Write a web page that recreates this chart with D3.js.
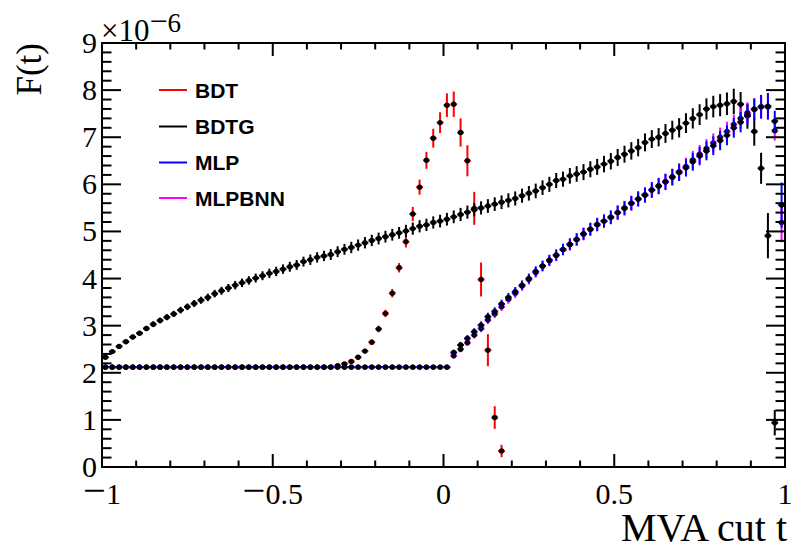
<!DOCTYPE html>
<html>
<head>
<meta charset="utf-8">
<script src="https://cdn.jsdelivr.net/npm/d3@7"></script>
<style>
  html, body { margin: 0; padding: 0; background: #fff; }
  svg { display: block; }
</style>
</head>
<body>
<svg id="chart" width="791" height="550"></svg>
<script>
// ---------------- DATA ----------------
const nBins = 100;
const xMin = -1, xMax = 1;
const xTickLabels = ["\u22121", "\u22120.5", "0", "0.5", "1"];
const xTickValues = [-1, -0.5, 0, 0.5, 1];
const yTickValues = [0, 1, 2, 3, 4, 5, 6, 7, 8, 9];
const seriesNames = ["BDT", "BDTG", "MLP", "MLPBNN"];
const seriesColors = ["#ff0000", "#000000", "#0000ff", "#ff00ff"];

// values in units of 1e-6, one per bin (bin width 0.02, centres -0.99 ... 0.99)
const bdtValues = [
  2.12,2.12,2.12,2.12,2.12,2.12,2.12,2.12,2.12,2.12,
  2.12,2.12,2.12,2.12,2.12,2.12,2.12,2.12,2.12,2.12,
  2.12,2.12,2.12,2.12,2.12,2.12,2.12,2.12,2.12,2.12,
  2.12,2.12,2.12,2.12,2.15,2.19,2.24,2.33,2.46,2.65,
  2.93,3.26,3.69,4.23,4.78,5.37,5.94,6.51,6.98,7.31,
  7.68,7.70,7.10,6.50,5.49,3.98,2.48,1.05,0.34,null,
  null,null,null,null,null,null,null,null,null,null,
  null,null,null,null,null,null,null,null,null,null,
  null,null,null,null,null,null,null,null,null,null,
  null,null,null,null,null,null,null,null,null,null
];
const bdtErrors = [
  0.02,0.02,0.02,0.02,0.02,0.02,0.02,0.02,0.02,0.02,
  0.02,0.02,0.02,0.02,0.02,0.02,0.02,0.02,0.02,0.02,
  0.02,0.02,0.02,0.02,0.02,0.02,0.02,0.02,0.02,0.02,
  0.02,0.02,0.02,0.02,0.03,0.035,0.04,0.045,0.05,0.06,
  0.07,0.08,0.09,0.10,0.12,0.15,0.16,0.18,0.20,0.22,
  0.25,0.27,0.30,0.33,0.35,0.36,0.34,0.24,0.13,null,
  null,null,null,null,null,null,null,null,null,null,
  null,null,null,null,null,null,null,null,null,null,
  null,null,null,null,null,null,null,null,null,null,
  null,null,null,null,null,null,null,null,null,null
];
const bdtgValues = [
  2.33,2.45,2.56,2.66,2.76,2.84,2.94,3.03,3.11,3.18,
  3.25,3.33,3.40,3.47,3.54,3.60,3.68,3.74,3.80,3.86,
  3.91,3.96,4.01,4.06,4.11,4.15,4.20,4.25,4.29,4.36,
  4.40,4.45,4.48,4.51,4.57,4.62,4.66,4.71,4.76,4.81,
  4.85,4.89,4.93,4.97,5.01,5.06,5.11,5.14,5.19,5.22,
  5.26,5.31,5.36,5.41,5.46,5.50,5.54,5.58,5.62,5.66,
  5.70,5.76,5.81,5.86,5.93,6.00,6.08,6.11,6.18,6.22,
  6.26,6.32,6.37,6.43,6.49,6.57,6.64,6.71,6.78,6.89,
  6.96,7.00,7.08,7.15,7.20,7.30,7.40,7.48,7.60,7.65,
  7.68,7.71,7.76,7.70,7.45,7.12,6.34,4.91,0.94,null
];
const bdtgErrors = [
  0.03,0.035,0.04,0.045,0.05,0.05,0.055,0.06,0.06,0.065,
  0.065,0.07,0.07,0.075,0.075,0.08,0.08,0.085,0.085,0.09,
  0.09,0.09,0.095,0.095,0.10,0.10,0.10,0.105,0.105,0.105,
  0.11,0.11,0.11,0.115,0.115,0.115,0.12,0.12,0.12,0.12,
  0.125,0.125,0.125,0.125,0.13,0.13,0.13,0.13,0.13,0.135,
  0.135,0.135,0.14,0.14,0.14,0.14,0.145,0.145,0.145,0.15,
  0.15,0.15,0.155,0.155,0.155,0.16,0.16,0.16,0.165,0.165,
  0.17,0.17,0.17,0.175,0.175,0.18,0.18,0.185,0.185,0.19,
  0.19,0.195,0.20,0.20,0.205,0.21,0.215,0.22,0.225,0.23,
  0.235,0.24,0.27,0.26,0.27,0.30,0.33,0.48,0.27,null
];
const mlpValues = [
  2.12,2.12,2.12,2.12,2.12,2.12,2.12,2.12,2.12,2.12,
  2.12,2.12,2.12,2.12,2.12,2.12,2.12,2.12,2.12,2.12,
  2.12,2.12,2.12,2.12,2.12,2.12,2.12,2.12,2.12,2.12,
  2.12,2.12,2.12,2.12,2.12,2.12,2.12,2.12,2.12,2.12,
  2.12,2.12,2.12,2.12,2.12,2.12,2.12,2.12,2.12,2.12,
  2.12,2.43,2.59,2.73,2.87,3.01,3.19,3.30,3.46,3.60,
  3.72,3.86,4.00,4.15,4.27,4.39,4.50,4.62,4.73,4.83,
  4.95,5.05,5.15,5.22,5.30,5.40,5.49,5.60,5.69,5.77,
  5.88,5.96,6.05,6.15,6.25,6.35,6.48,6.60,6.71,6.82,
  6.93,7.04,7.20,7.32,7.48,7.59,7.65,7.66,7.34,5.56
];
const mlpErrors = [
  0.02,0.02,0.02,0.02,0.02,0.02,0.02,0.02,0.02,0.02,
  0.02,0.02,0.02,0.02,0.02,0.02,0.02,0.02,0.02,0.02,
  0.02,0.02,0.02,0.02,0.02,0.02,0.02,0.02,0.02,0.02,
  0.02,0.02,0.02,0.02,0.02,0.02,0.02,0.02,0.02,0.02,
  0.02,0.02,0.02,0.02,0.02,0.02,0.02,0.02,0.02,0.02,
  0.02,0.06,0.065,0.07,0.075,0.08,0.085,0.09,0.09,0.095,
  0.10,0.10,0.105,0.11,0.11,0.115,0.12,0.12,0.125,0.13,
  0.13,0.135,0.14,0.14,0.145,0.15,0.15,0.155,0.16,0.16,
  0.165,0.17,0.17,0.175,0.18,0.185,0.19,0.195,0.20,0.20,
  0.205,0.21,0.21,0.215,0.22,0.23,0.25,0.28,0.22,0.48
];
const mlpbnnValues = [
  2.12,2.12,2.12,2.12,2.12,2.12,2.12,2.12,2.12,2.12,
  2.12,2.12,2.12,2.12,2.12,2.12,2.12,2.12,2.12,2.12,
  2.12,2.12,2.12,2.12,2.12,2.12,2.12,2.12,2.12,2.12,
  2.12,2.12,2.12,2.12,2.12,2.12,2.12,2.12,2.12,2.12,
  2.12,2.12,2.12,2.12,2.12,2.12,2.12,2.12,2.12,2.12,
  2.12,2.36,2.50,2.64,2.80,2.94,3.12,3.25,3.40,3.56,
  3.69,3.84,3.98,4.13,4.26,4.38,4.49,4.61,4.72,4.83,
  4.94,5.04,5.14,5.22,5.30,5.40,5.50,5.60,5.69,5.78,
  5.88,5.97,6.06,6.16,6.27,6.38,6.52,6.64,6.76,6.88,
  7.00,7.12,7.27,7.40,7.52,7.60,7.64,7.64,7.14,5.19
];
const mlpbnnErrors = [
  0.02,0.02,0.02,0.02,0.02,0.02,0.02,0.02,0.02,0.02,
  0.02,0.02,0.02,0.02,0.02,0.02,0.02,0.02,0.02,0.02,
  0.02,0.02,0.02,0.02,0.02,0.02,0.02,0.02,0.02,0.02,
  0.02,0.02,0.02,0.02,0.02,0.02,0.02,0.02,0.02,0.02,
  0.02,0.02,0.02,0.02,0.02,0.02,0.02,0.02,0.02,0.02,
  0.02,0.06,0.065,0.07,0.075,0.08,0.085,0.09,0.09,0.095,
  0.10,0.10,0.105,0.11,0.11,0.115,0.12,0.12,0.125,0.13,
  0.13,0.135,0.14,0.14,0.145,0.15,0.15,0.155,0.16,0.16,
  0.165,0.17,0.17,0.175,0.18,0.185,0.19,0.195,0.20,0.20,
  0.205,0.21,0.21,0.215,0.22,0.23,0.25,0.27,0.21,0.42
];

// ---------------- LAYOUT ----------------
const m = { left: 102, right: 785, top: 43, bottom: 467 };
const serif = "'Liberation Serif','Times New Roman',serif";
const sans = "'Liberation Sans',Arial,Helvetica,sans-serif";
const tickFont = 30;

const svg = d3.select("#chart");
const x = d3.scaleLinear().domain([xMin, xMax]).range([m.left, m.right]);
const y = d3.scaleLinear().domain([0, 9]).range([m.bottom, m.top]);

const binW = (xMax - xMin) / nBins;
const centres = d3.range(nBins).map(i => xMin + binW * (i + 0.5));

svg.append("defs").append("clipPath").attr("id", "pc")
  .append("rect").attr("x", m.left).attr("y", m.top)
  .attr("width", m.right - m.left).attr("height", m.bottom - m.top);

const plot = svg.append("g").attr("clip-path", "url(#pc)");

function drawSeries(vals, errs, color) {
  const pts = centres.map((c, i) => ({ c, v: vals[i], e: errs[i] })).filter(d => d.v !== null);
  const g = plot.append("g");
  g.selectAll("line.h").data(pts).enter().append("line")
    .attr("x1", d => x(d.c - binW / 2)).attr("x2", d => x(d.c + binW / 2))
    .attr("y1", d => y(d.v)).attr("y2", d => y(d.v))
    .attr("stroke", color).attr("stroke-width", 2);
  g.selectAll("line.v").data(pts).enter().append("line")
    .attr("x1", d => x(d.c)).attr("x2", d => x(d.c))
    .attr("y1", d => y(d.v - d.e)).attr("y2", d => y(d.v + d.e))
    .attr("stroke", color).attr("stroke-width", 2);
  g.selectAll("circle").data(pts).enter().append("circle")
    .attr("cx", d => x(d.c)).attr("cy", d => y(d.v)).attr("r", 2.7)
    .attr("fill", "#000");
}
drawSeries(bdtValues, bdtErrors, seriesColors[0]);
drawSeries(bdtgValues, bdtgErrors, seriesColors[1]);
drawSeries(mlpbnnValues, mlpbnnErrors, seriesColors[3]);
drawSeries(mlpValues, mlpErrors, seriesColors[2]);

// ---------------- AXES ----------------
const frame = svg.append("g");
const xMajor = 13, xMinorL = 6.5, yMajor = 19, yMinorL = 9.5;
const xTicksAll = d3.range(-10, 11).map(d => d / 10);
xTicksAll.forEach(t => {
  const major = xTickValues.some(v => Math.abs(v - t) < 1e-9);
  const L = major ? xMajor : xMinorL;
  frame.append("line").attr("x1", x(t)).attr("x2", x(t))
    .attr("y1", m.bottom).attr("y2", m.bottom - L).attr("stroke", "#000").attr("stroke-width", 2);
  frame.append("line").attr("x1", x(t)).attr("x2", x(t))
    .attr("y1", m.top).attr("y2", m.top + L).attr("stroke", "#000").attr("stroke-width", 2);
});
const yTicksAll = d3.range(0, 46).map(d => d / 5);
yTicksAll.forEach(t => {
  const major = yTickValues.some(v => Math.abs(v - t) < 1e-9);
  const L = major ? yMajor : yMinorL;
  frame.append("line").attr("y1", y(t)).attr("y2", y(t))
    .attr("x1", m.left).attr("x2", m.left + L).attr("stroke", "#000").attr("stroke-width", 2);
  frame.append("line").attr("y1", y(t)).attr("y2", y(t))
    .attr("x1", m.right).attr("x2", m.right - L).attr("stroke", "#000").attr("stroke-width", 2);
});
frame.append("rect").attr("x", m.left).attr("y", m.top)
  .attr("width", m.right - m.left).attr("height", m.bottom - m.top)
  .attr("fill", "none").attr("stroke", "#000").attr("stroke-width", 2);

// label writer: wide ROOT-style minus sign
function writeLabel(sel, str, size) {
  if (str.startsWith("\u2212")) {
    sel.append("tspan").attr("font-size", size * 1.35).text("\u2212");
    sel.append("tspan").attr("font-size", size).text(str.slice(1));
  } else {
    sel.append("tspan").text(str);
  }
}

// tick labels
xTickValues.forEach((t, i) => {
  const tx = svg.append("text").attr("x", x(t)).attr("y", 504)
    .attr("text-anchor", "middle").attr("font-family", serif).attr("font-size", tickFont);
  writeLabel(tx, xTickLabels[i], tickFont);
});
yTickValues.forEach(t => {
  svg.append("text").attr("x", 97).attr("y", y(t) + 10)
    .attr("text-anchor", "end").attr("font-family", serif).attr("font-size", tickFont)
    .text(String(t));
});

// axis titles
svg.append("text").attr("x", 787).attr("y", 541).attr("text-anchor", "end")
  .attr("font-family", serif).attr("font-size", 40).text("MVA cut t");
svg.append("text").attr("transform", "translate(41,43) rotate(-90)").attr("text-anchor", "end")
  .attr("font-family", serif).attr("font-size", 35).text("F(t)");

// exponent
const ex = svg.append("text").attr("x", 101).attr("y", 41)
  .attr("font-family", serif).attr("font-size", 31);
ex.append("tspan").text("\u00d710");
ex.append("tspan").attr("dy", -9).attr("font-size", 32).text("\u2212");
ex.append("tspan").attr("font-size", 27).text("6");

// legend
const legY = [90, 126.5, 162.5, 198];
seriesNames.forEach((n, i) => {
  svg.append("line").attr("x1", 159).attr("x2", 187).attr("y1", legY[i]).attr("y2", legY[i])
    .attr("stroke", seriesColors[i]).attr("stroke-width", 2);
  svg.append("text").attr("x", 195).attr("y", legY[i] + 7.5)
    .attr("font-family", sans).attr("font-weight", "bold").attr("font-size", 21).text(n);
});
</script>
</body>
</html>
